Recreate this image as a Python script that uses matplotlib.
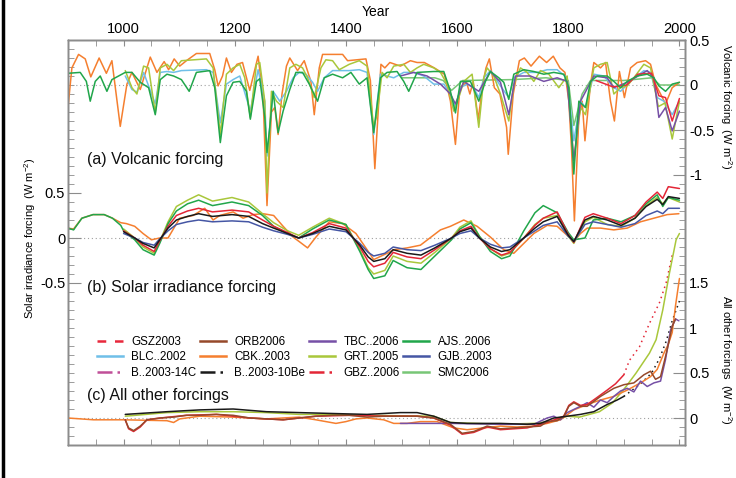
#!/usr/bin/env python3
# -*- coding: utf-8 -*-
"""
Radiative forcing reconstructions (last millennium) - three stacked panels:
(a) volcanic, (b) solar irradiance, (c) all other forcings.
"""

import matplotlib
matplotlib.use('Agg')
import matplotlib.pyplot as plt
from matplotlib.lines import Line2D
from matplotlib.ticker import FixedLocator, FixedFormatter, MultipleLocator
import numpy as np

# --- Configuration ---
plt.rcParams['font.family'] = ['Liberation Sans', 'DejaVu Sans']
plt.rcParams['mathtext.fontset'] = 'custom'
plt.rcParams['mathtext.rm'] = 'Liberation Sans'
plt.rcParams['mathtext.it'] = 'Liberation Sans:italic'

SPINE = '#8c8c8c'
ZERO = '#a0a0a0'
LW = 1.1

COLORS = {
    'GSZ': '#e8283c', 'ORB': '#96492a', 'TBC': '#7650a6', 'AJS': '#21a64b',
    'BLC': '#6fbfe8', 'CBK': '#f57f2f', 'GRT': '#a9c73b', 'GJB': '#4556a4',
    'B14C': '#c04f98', 'B10Be': '#1a1a1a', 'GBZ': '#e32636', 'SMC': '#78c676',
}

# --- Data: (a) volcanic forcing (W m-2) ---
VOLC_CBK_YEARS = [900, 907, 919, 931, 941, 956, 969, 979, 994, 1006,
                  1015, 1030, 1048, 1060, 1073, 1081, 1091, 1101, 1113, 1131,
                  1155, 1164, 1170, 1178, 1185, 1194, 1204, 1214, 1227, 1242,
                  1251, 1258, 1266, 1272, 1278, 1285, 1293, 1299, 1313, 1325,
                  1337, 1343, 1352, 1358, 1394, 1403, 1436, 1444, 1452, 1463,
                  1470, 1479, 1498, 1516, 1528, 1541, 1559, 1577, 1588, 1597,
                  1605, 1617, 1623, 1629, 1638, 1647, 1652, 1658, 1667, 1677,
                  1689, 1692, 1701, 1712, 1721, 1733, 1748, 1761, 1773, 1785,
                  1794, 1801, 1806, 1811, 1819, 1825, 1830, 1840, 1846, 1858,
                  1867, 1876, 1883, 1892, 1901, 1912, 1924, 1939, 1948, 1957,
                  1966, 1975, 1987, 2000]
VOLC_CBK = [-0.25, 0.19, 0.34, 0.29, 0.09, 0.30, 0.13, 0.27, -0.46, 0.01,
            0.14, -0.05, 0.31, 0.14, 0.26, 0.17, 0.29, 0.21, 0.27, 0.35,
            0.35, 0.17, -0.01, 0.10, 0.30, 0.14, 0.23, 0.25, -0.06, 0.32,
            -0.14, -1.34, -0.30, -0.25, -0.55, -0.10, 0.21, 0.30, 0.16, 0.27,
            0.04, -0.33, 0.19, 0.34, 0.34, 0.27, 0.29, 0.05, -0.93, 0.23,
            0.19, 0.25, 0.21, 0.27, 0.25, 0.25, 0.19, 0.12, -0.18, -0.66,
            -0.03, 0.03, -0.10, 0.04, -0.38, 0.04, 0.19, 0.29, -0.03, -0.10,
            -0.47, -0.77, -0.10, 0.27, 0.30, 0.21, 0.32, 0.25, 0.32, 0.19,
            0.14, -0.18, -0.73, -1.51, -0.36, -0.18, -0.62, 0.01, 0.25, 0.19,
            0.25, -0.18, -0.40, 0.15, -0.14, 0.19, 0.25, 0.27, 0.23, 0.01,
            -0.10, -0.21, -0.03, 0.03]

VOLC_AJS_YEARS = [900, 922, 933, 940, 949, 958, 970, 979, 991, 1003,
                  1015, 1030, 1045, 1057, 1066, 1078, 1090, 1104, 1118, 1131,
                  1155, 1164, 1174, 1185, 1197, 1209, 1221, 1228, 1239, 1245,
                  1254, 1258, 1263, 1269, 1278, 1287, 1299, 1310, 1322, 1334,
                  1349, 1361, 1376, 1394, 1409, 1424, 1438, 1450, 1462, 1474,
                  1492, 1504, 1513, 1528, 1558, 1576, 1588, 1597, 1606, 1624,
                  1639, 1651, 1660, 1675, 1684, 1693, 1702, 1720, 1738, 1756,
                  1774, 1792, 1801, 1810, 1819, 1831, 1840, 1852, 1870, 1882,
                  1894, 1906, 1924, 1942, 1954, 1963, 1975, 1987, 2000]
VOLC_AJS = [0.13, 0.14, 0.04, -0.18, 0.04, 0.10, -0.07, 0.06, 0.10, 0.14,
            0.14, 0.03, -0.03, -0.33, 0.06, 0.12, 0.10, 0.06, -0.07, 0.14,
            0.16, -0.03, -0.64, -0.12, 0.03, 0.04, -0.07, -0.38, 0.04, 0.07,
            -0.36, -0.75, -0.47, -0.07, -0.53, -0.29, -0.05, 0.14, 0.14, 0.01,
            -0.18, 0.08, 0.12, 0.08, 0.14, 0.01, 0.08, -0.53, 0.08, 0.14,
            0.15, 0.04, -0.07, 0.14, 0.15, 0.15, -0.07, -0.31, 0.04, 0.04,
            -0.18, 0.04, 0.15, 0.08, 0.03, -0.16, 0.12, 0.17, 0.15, 0.12,
            0.14, 0.12, -0.03, -0.99, -0.18, -0.25, 0.04, 0.10, 0.10, 0.04,
            -0.03, 0.04, 0.10, 0.12, 0.08, -0.01, -0.07, 0.01, 0.03]

VOLC_GRT_YEARS = [1003, 1015, 1024, 1036, 1045, 1057, 1066, 1078, 1090, 1104,
                  1149, 1161, 1174, 1185, 1197, 1209, 1218, 1228, 1239, 1245,
                  1254, 1258, 1266, 1275, 1287, 1299, 1310, 1322, 1331, 1343,
                  1355, 1364, 1376, 1388, 1406, 1424, 1438, 1450, 1456, 1465,
                  1474, 1486, 1504, 1516, 1528, 1540, 1558, 1570, 1582, 1594,
                  1603, 1612, 1627, 1639, 1648, 1654, 1666, 1678, 1693, 1702,
                  1714, 1726, 1738, 1750, 1765, 1783, 1798, 1810, 1822, 1831,
                  1846, 1858, 1870, 1882, 1894, 1906, 1918, 1936, 1948, 1962,
                  1974, 1987, 2000]
VOLC_GRT = [0.16, -0.03, -0.10, 0.21, 0.19, -0.31, 0.19, 0.23, 0.16, 0.27,
            0.29, 0.19, -0.55, 0.12, 0.19, 0.23, 0.08, -0.36, 0.23, 0.25,
            -0.18, -1.20, -0.07, -0.18, -0.25, 0.19, 0.23, 0.19, 0.08, -0.14,
            0.19, 0.28, 0.27, 0.17, 0.23, 0.27, 0.21, -0.47, -0.33, 0.14,
            0.08, 0.21, 0.23, 0.14, 0.19, 0.23, 0.19, 0.14, 0.01, -0.29,
            -0.14, 0.04, 0.12, -0.47, 0.08, 0.19, 0.10, -0.10, -0.40, 0.01,
            0.19, 0.14, 0.04, 0.16, 0.12, -0.03, 0.10, -0.84, -0.25, -0.33,
            0.19, 0.23, 0.25, -0.10, -0.03, -0.01, 0.08, 0.23, 0.19, -0.24,
            -0.20, -0.60, -0.18]

VOLC_BLC_YEARS = [1003, 1015, 1024, 1036, 1057, 1066, 1078, 1090, 1104, 1149,
                  1161, 1174, 1185, 1197, 1209, 1228, 1242, 1254, 1258, 1269,
                  1281, 1293, 1305, 1316, 1328, 1340, 1349, 1361, 1376, 1388,
                  1406, 1424, 1438, 1450, 1462, 1474, 1486, 1504, 1522, 1540,
                  1558, 1576, 1588, 1597, 1606, 1618, 1630, 1639, 1648, 1660,
                  1678, 1693, 1702, 1720, 1744, 1762, 1780, 1798, 1810, 1822,
                  1831, 1846, 1864, 1882, 1894, 1912, 1936, 1948, 1960, 1972,
                  1987, 2000]
VOLC_BLC = [0.10, -0.05, -0.08, 0.14, -0.21, 0.14, 0.15, 0.14, 0.16, 0.17,
            0.14, -0.42, 0.01, 0.06, 0.10, -0.29, 0.17, -0.18, -0.79, -0.07,
            -0.18, -0.07, 0.08, 0.14, 0.12, 0.03, -0.07, 0.08, 0.16, 0.16,
            0.16, 0.17, 0.14, -0.55, 0.12, 0.10, 0.08, 0.14, 0.14, 0.10,
            0.01, 0.01, -0.10, -0.25, -0.03, 0.01, -0.03, -0.14, 0.08, 0.16,
            -0.01, -0.14, 0.08, 0.14, 0.14, 0.17, 0.17, 0.08, -0.62, -0.18,
            -0.25, 0.12, 0.10, -0.03, -0.07, 0.04, 0.16, 0.14, -0.14, -0.18,
            -0.33, -0.18]

VOLC_TBC_YEARS = [1498, 1522, 1546, 1570, 1588, 1597, 1612, 1639, 1660, 1678,
                  1693, 1705, 1732, 1756, 1780, 1798, 1810, 1822, 1846, 1870,
                  1882, 1906, 1942, 1954, 1963, 1975, 1987, 2000]
VOLC_TBC = [0.10, 0.14, 0.10, 0.01, -0.10, -0.21, 0.04, -0.07, 0.15, 0.03,
            -0.33, 0.10, 0.10, 0.04, 0.08, 0.04, -0.84, -0.18, 0.10, 0.08,
            -0.03, 0.03, 0.16, 0.08, -0.36, -0.25, -0.51, -0.29]

VOLC_GSZ_YEARS = [1850, 1880, 1905, 1925, 1950, 1963, 1975, 1987, 2000]
VOLC_GSZ = [0.05, -0.02, 0.00, 0.12, 0.13, -0.12, -0.14, -0.40, -0.15]

VOLC_SMC_YEARS = [1500, 1560, 1575, 1590, 1610, 1700, 1760, 1800, 1810, 1825,
                  1840, 1900, 1950, 1965, 2000]
VOLC_SMC = [0.08, 0.08, 0.05, -0.06, 0.05, 0.06, 0.08, 0.05, -0.45, -0.10,
            0.05, 0.05, 0.08, 0.00, 0.00]

# --- Data: (b) solar irradiance forcing (W m-2) ---
SOLAR_YEARS = [1000, 1020, 1035, 1055, 1065, 1080, 1095, 1115, 1135, 1160,
               1195, 1225, 1250, 1270, 1295, 1315, 1340, 1370, 1400, 1425,
               1440, 1450, 1470, 1485, 1510, 1535, 1560, 1590, 1605, 1625,
               1640, 1660, 1680, 1695, 1720, 1740, 1755, 1780, 1800, 1810,
               1830, 1845, 1870, 1895, 1920, 1940, 1960, 1970, 1980, 2000]
SOLAR_B10BE = [0.07, 0.00, -0.06, -0.11, -0.02, 0.11, 0.20, 0.24, 0.27, 0.24,
               0.26, 0.24, 0.16, 0.11, 0.05, 0.00, 0.05, 0.13, 0.09, -0.08,
               -0.21, -0.26, -0.23, -0.13, -0.17, -0.19, -0.11, 0.00, 0.07, 0.11,
               0.00, -0.10, -0.15, -0.13, 0.00, 0.11, 0.18, 0.24, 0.03, -0.04,
               0.20, 0.24, 0.20, 0.14, 0.22, 0.35, 0.43, 0.37, 0.46, 0.44]
SOLAR_GBZ = [0.08, 0.00, -0.08, -0.15, -0.03, 0.13, 0.25, 0.30, 0.33, 0.29,
             0.31, 0.29, 0.20, 0.13, 0.06, 0.00, 0.06, 0.16, 0.11, -0.10,
             -0.26, -0.32, -0.28, -0.16, -0.21, -0.23, -0.13, 0.00, 0.08, 0.13,
             0.00, -0.12, -0.19, -0.16, 0.00, 0.14, 0.22, 0.29, 0.04, -0.05,
             0.23, 0.27, 0.22, 0.16, 0.25, 0.40, 0.51, 0.44, 0.57, 0.55]
SOLAR_GRT = [0.10, 0.00, -0.10, -0.17, -0.04, 0.18, 0.35, 0.42, 0.48, 0.41,
             0.45, 0.40, 0.27, 0.17, 0.08, 0.03, 0.12, 0.22, 0.15, -0.13,
             -0.33, -0.40, -0.36, -0.20, -0.26, -0.28, -0.16, 0.00, 0.12, 0.19,
             0.02, -0.12, -0.20, -0.17, 0.00, 0.15, 0.22, 0.25, 0.02, -0.06,
             0.18, 0.23, 0.15, 0.13, 0.22, 0.36, 0.45, 0.38, 0.45, 0.40]
SOLAR_GJB = [0.05, 0.00, -0.05, -0.08, -0.01, 0.08, 0.15, 0.18, 0.20, 0.18,
             0.19, 0.18, 0.12, 0.08, 0.04, 0.00, 0.04, 0.10, 0.07, -0.06,
             -0.16, -0.20, -0.17, -0.10, -0.13, -0.14, -0.08, 0.00, 0.05, 0.08,
             0.00, -0.07, -0.11, -0.10, 0.00, 0.08, 0.14, 0.18, 0.02, -0.04,
             0.15, 0.18, 0.15, 0.12, 0.16, 0.25, 0.30, 0.27, 0.33, 0.33]
SOLAR_AJS_YEARS = [900, 910, 925, 945, 965, 980, 995,
                   1000, 1020, 1035, 1055, 1065, 1080, 1095, 1115, 1135, 1160,
                   1195, 1225, 1250, 1270, 1295, 1315, 1340, 1370, 1400, 1425,
                   1440, 1450, 1470, 1485, 1510, 1535, 1560, 1590, 1605, 1625,
                   1640, 1660, 1680, 1695, 1720, 1740, 1755, 1780, 1800, 1810,
                   1830, 1845, 1870, 1895, 1920, 1940, 1960, 1970, 1980, 2000]
SOLAR_AJS = [0.11, 0.09, 0.22, 0.26, 0.26, 0.22, 0.14,
             0.08, -0.02, -0.13, -0.19, -0.06, 0.16, 0.30, 0.38, 0.42, 0.36,
             0.40, 0.36, 0.25, 0.13, 0.05, 0.00, 0.10, 0.20, 0.15, -0.15,
             -0.35, -0.45, -0.42, -0.25, -0.33, -0.35, -0.20, -0.02, 0.10, 0.17,
             0.02, -0.15, -0.23, -0.20, 0.08, 0.28, 0.36, 0.28, 0.06, -0.02,
             0.00, 0.20, 0.22, 0.18, 0.25, 0.38, 0.48, 0.35, 0.45, 0.42]
SOLAR_CBK_YEARS = [900, 910, 925, 945, 965, 980, 995, 1005, 1020, 1035,
                   1050, 1065, 1080, 1101, 1125, 1146, 1161, 1173, 1197, 1215,
                   1233, 1251, 1270, 1287, 1305, 1316, 1331, 1346, 1370, 1394,
                   1418, 1438, 1450, 1474, 1486, 1510, 1534, 1570, 1588, 1612,
                   1636, 1660, 1684, 1702, 1720, 1738, 1762, 1780, 1798, 1810,
                   1822, 1834, 1858, 1882, 1906, 1930, 1954, 1978, 1999]
SOLAR_CBK = [0.11, 0.10, 0.22, 0.26, 0.26, 0.22, 0.17, 0.16, 0.13, 0.05,
             -0.02, 0.00, 0.00, 0.22, 0.25, 0.33, 0.20, 0.25, 0.29, 0.22,
             0.26, 0.27, 0.25, 0.13, 0.01, -0.04, -0.11, 0.01, 0.18, 0.16,
             0.05, -0.13, -0.24, -0.17, -0.13, -0.11, -0.08, 0.09, 0.13, 0.20,
             0.13, 0.01, -0.13, -0.17, -0.06, 0.05, 0.14, 0.13, 0.03, -0.04,
             0.05, 0.11, 0.11, 0.09, 0.11, 0.18, 0.22, 0.26, 0.27]

# --- Data: (c) all other forcings (W m-2) ---
OTHER_B10BE_YEARS = [1003, 1078, 1137, 1197, 1257, 1316, 1376, 1438, 1498, 1528,
                     1558, 1588, 1618, 1678, 1726, 1750, 1774, 1798, 1822, 1846,
                     1870, 1888, 1900]
OTHER_B10BE = [0.04, 0.07, 0.09, 0.10, 0.07, 0.06, 0.05, 0.04, 0.06, 0.06,
               0.02, -0.05, -0.06, -0.06, -0.07, -0.06, 0.00, 0.02, 0.04, 0.07,
               0.15, 0.20, 0.24]
OTHER_B10BE_EXT_YEARS = [1900, 1930, 1950, 1964, 1976, 1987, 2000]
OTHER_B10BE_EXT = [0.24, 0.38, 0.50, 0.66, 0.85, 1.08, 1.30]

OTHER_GRT_YEARS = [1003, 1078, 1137, 1197, 1257, 1316, 1376, 1438, 1558, 1588,
                   1678, 1738, 1768, 1798, 1820, 1856, 1880, 1904, 1922, 1934,
                   1946, 1958, 1970, 1982, 1994, 2000]
OTHER_GRT = [0.02, 0.06, 0.07, 0.07, 0.06, 0.04, 0.04, 0.03, 0.02, -0.05,
             -0.07, -0.06, -0.04, 0.02, 0.01, 0.07, 0.17, 0.35, 0.50, 0.61,
             0.72, 0.87, 1.20, 1.61, 1.98, 2.05]

OTHER_GBZ_YEARS = [1003, 1009, 1018, 1030, 1042, 1066, 1113, 1167, 1227, 1287,
                   1346, 1406, 1468, 1528, 1558, 1588, 1609, 1630, 1654, 1678,
                   1726, 1762, 1792, 1801, 1810, 1822, 1834, 1850, 1870, 1885,
                   1900]
OTHER_GBZ = [-0.02, -0.12, -0.15, -0.10, -0.02, 0.00, 0.03, 0.04, 0.00, -0.02,
             0.02, 0.03, 0.02, 0.02, 0.00, -0.08, -0.18, -0.16, -0.10, -0.13,
             -0.11, -0.05, 0.02, 0.14, 0.18, 0.14, 0.15, 0.22, 0.31, 0.38,
             0.48]
OTHER_GBZ_EXT_YEARS = [1900, 1910, 1928, 1946, 1964, 1976, 1987]
OTHER_GBZ_EXT = [0.48, 0.64, 0.79, 1.05, 1.28, 1.50, 1.81]

OTHER_ORB_YEARS = [1003, 1009, 1018, 1030, 1042, 1066, 1090, 1113, 1137, 1167,
                   1197, 1227, 1257, 1287, 1316, 1346, 1376, 1406, 1438, 1468,
                   1498, 1528, 1558, 1588, 1609, 1630, 1654, 1678, 1702, 1726,
                   1750, 1762, 1780, 1792, 1801, 1810, 1822, 1834, 1858, 1882,
                   1900, 1918, 1936, 1948, 1957, 1966, 1978, 1987, 1993]
OTHER_ORB = [-0.02, -0.11, -0.14, -0.09, -0.02, 0.00, 0.01, 0.03, 0.03, 0.04,
             0.03, 0.00, -0.01, -0.02, 0.00, 0.02, 0.03, 0.03, 0.01, 0.02,
             0.02, 0.02, 0.00, -0.07, -0.17, -0.15, -0.09, -0.12, -0.11, -0.10,
             -0.09, -0.04, -0.03, 0.02, 0.13, 0.17, 0.13, 0.13, 0.24, 0.33,
             0.37, 0.39, 0.48, 0.52, 0.43, 0.46, 0.76, 1.02, 1.10]

OTHER_CBK_YEARS = [900, 946, 1000, 1078, 1090, 1101, 1137, 1197, 1257, 1316,
                   1346, 1364, 1382, 1400, 1418, 1438, 1468, 1486, 1510, 1534,
                   1564, 1594, 1618, 1648, 1678, 1708, 1738, 1762, 1786, 1810,
                   1834, 1858, 1882, 1906, 1930, 1948, 1960, 1972, 1980, 1987,
                   1993, 2000]
OTHER_CBK = [0.00, -0.02, -0.02, -0.03, -0.05, -0.01, 0.02, 0.01, -0.01, 0.01,
             -0.02, -0.04, -0.06, -0.04, -0.01, 0.00, -0.02, -0.06, -0.06, -0.04,
             -0.04, -0.11, -0.13, -0.11, -0.09, -0.10, -0.09, -0.06, -0.02, 0.09,
             0.15, 0.20, 0.24, 0.31, 0.39, 0.46, 0.54, 0.72, 0.82, 0.95,
             1.25, 1.55]

OTHER_TBC_YEARS = [1498, 1588, 1678, 1738, 1762, 1774, 1786, 1798, 1822, 1834,
                   1846, 1858, 1870, 1882, 1894, 1906, 1918, 1930, 1942, 1954,
                   1966, 1975, 1984, 1993, 1999]
OTHER_TBC = [-0.06, -0.06, -0.07, -0.07, 0.00, 0.02, -0.02, 0.06, 0.13, 0.17,
             0.12, 0.20, 0.17, 0.24, 0.30, 0.33, 0.29, 0.41, 0.35, 0.39,
             0.41, 0.65, 0.98, 1.10, 1.08]

# --- Legend (row by row as printed) ---
LEGEND_LABELS = ['GSZ2003', 'ORB2006', 'TBC..2006', 'AJS..2006',
                 'BLC..2002', 'CBK..2003', 'GRT..2005', 'GJB..2003',
                 'B..2003-14C', 'B..2003-10Be', 'GBZ..2006', 'SMC2006']
LEGEND_KEYS = ['GSZ', 'ORB', 'TBC', 'AJS', 'BLC', 'CBK', 'GRT', 'GJB',
               'B14C', 'B10Be', 'GBZ', 'SMC']
DASH_DOT_DOT = (0, (6, 2, 1, 2, 1, 2))
LEGEND_STYLES = {'GSZ': (0, (3.5, 3.5)), 'B14C': DASH_DOT_DOT,
                 'B10Be': DASH_DOT_DOT, 'GBZ': DASH_DOT_DOT}


def setup_axes(fig):
    rect = [68 / 736, 33 / 478, 617 / 736, 405 / 478]
    ax_s = fig.add_axes(rect)      # solar, left scale
    ax_v = ax_s.twinx()            # volcanic, upper right scale
    ax_o = ax_s.twinx()            # other forcings, lower right scale

    ax_s.set_xlim(900, 2010)
    ax_s.set_ylim(-2.3, 2.2)
    ax_v.set_ylim(-4.0, 0.5)
    ax_o.set_ylim(-0.3, 4.2)

    for ax in (ax_s, ax_v, ax_o):
        for sp in ax.spines.values():
            sp.set_color(SPINE)
            sp.set_linewidth(1.0)

    # x axis: labels on top, ticks top and bottom
    ax_s.xaxis.set_major_locator(FixedLocator(range(1000, 2001, 200)))
    ax_s.xaxis.set_minor_locator(MultipleLocator(50))
    ax_s.tick_params(axis='x', which='both', direction='in', top=True,
                     bottom=True, labeltop=True, labelbottom=False,
                     color=SPINE, length=4, pad=3, labelsize=10.5)

    # left scale (solar)
    ax_s.yaxis.set_major_locator(FixedLocator([-0.5, 0, 0.5]))
    ax_s.yaxis.set_major_formatter(FixedFormatter(['-0.5', '0', '0.5']))
    ax_s.yaxis.set_minor_locator(FixedLocator(np.round(np.arange(-2.3, 2.21, 0.1), 2)))
    ax_s.tick_params(axis='y', which='both', direction='in', left=True,
                     right=False, color=SPINE, labelsize=10.5, pad=2)
    ax_s.tick_params(axis='y', which='major', length=9)
    ax_s.tick_params(axis='y', which='minor', length=4.5)

    # right scale (volcanic)
    ax_v.yaxis.set_major_locator(FixedLocator([-1, -0.5, 0, 0.5]))
    ax_v.yaxis.set_major_formatter(FixedFormatter(['-1', '-0.5', '0', '0.5']))
    ax_v.yaxis.set_minor_locator(FixedLocator(np.round(np.arange(-4.0, 0.51, 0.1), 2)))
    ax_v.tick_params(axis='y', which='both', direction='in', color=SPINE,
                     labelsize=10.5, pad=3)
    ax_v.tick_params(axis='y', which='major', length=9)
    ax_v.tick_params(axis='y', which='minor', length=4.5)

    # right scale (all other forcings)
    ax_o.yaxis.set_major_locator(FixedLocator([0, 0.5, 1, 1.5]))
    ax_o.yaxis.set_major_formatter(FixedFormatter(['0', '0.5', '1', '1.5']))
    ax_o.yaxis.set_minor_locator(FixedLocator([]))
    ax_o.tick_params(axis='y', which='major', direction='in', color=SPINE,
                     labelsize=10.5, pad=3, length=9)

    for ax in (ax_s, ax_v, ax_o):
        ax.axhline(0, color=ZERO, ls=(0, (1, 2.5)), lw=0.8, zorder=0)

    return ax_s, ax_v, ax_o


def draw(ax, years, values, key, ls='-'):
    ax.plot(years, values, color=COLORS[key], lw=LW, ls=ls, solid_capstyle='round')


def plot_forcings():
    fig = plt.figure(figsize=(7.36, 4.78), dpi=100)
    ax_s, ax_v, ax_o = setup_axes(fig)

    # (a) volcanic
    draw(ax_v, VOLC_SMC_YEARS, VOLC_SMC, 'SMC')
    draw(ax_v, VOLC_CBK_YEARS, VOLC_CBK, 'CBK')
    draw(ax_v, VOLC_BLC_YEARS, VOLC_BLC, 'BLC')
    draw(ax_v, VOLC_GRT_YEARS, VOLC_GRT, 'GRT')
    draw(ax_v, VOLC_TBC_YEARS, VOLC_TBC, 'TBC')
    draw(ax_v, VOLC_GSZ_YEARS, VOLC_GSZ, 'GSZ')
    draw(ax_v, VOLC_AJS_YEARS, VOLC_AJS, 'AJS')

    # (b) solar
    draw(ax_s, SOLAR_CBK_YEARS, SOLAR_CBK, 'CBK')
    draw(ax_s, SOLAR_YEARS, SOLAR_GRT, 'GRT')
    draw(ax_s, SOLAR_AJS_YEARS, SOLAR_AJS, 'AJS')
    draw(ax_s, SOLAR_YEARS, SOLAR_GBZ, 'GBZ')
    draw(ax_s, SOLAR_YEARS, SOLAR_GJB, 'GJB')
    draw(ax_s, SOLAR_YEARS, SOLAR_B10BE, 'B10Be')

    # (c) all other forcings
    dotted = (0, (1, 2.5))
    draw(ax_o, OTHER_GBZ_EXT_YEARS, OTHER_GBZ_EXT, 'GBZ', ls=dotted)
    draw(ax_o, OTHER_B10BE_EXT_YEARS, OTHER_B10BE_EXT, 'B10Be', ls=dotted)
    draw(ax_o, OTHER_GRT_YEARS, OTHER_GRT, 'GRT')
    draw(ax_o, OTHER_CBK_YEARS, OTHER_CBK, 'CBK')
    draw(ax_o, OTHER_TBC_YEARS, OTHER_TBC, 'TBC')
    draw(ax_o, OTHER_GBZ_YEARS, OTHER_GBZ, 'GBZ')
    draw(ax_o, OTHER_ORB_YEARS, OTHER_ORB, 'ORB')
    draw(ax_o, OTHER_B10BE_YEARS, OTHER_B10BE, 'B10Be')

    # panel titles
    for y, txt in [(0.704, '(a) Volcanic forcing'),
                   (0.390, '(b) Solar irradiance forcing'),
                   (0.122, '(c) All other forcings')]:
        ax_o.text(0.031, y, txt, transform=ax_o.transAxes, fontsize=11.5,
                  ha='left', va='center', color='#111111')

    # legend, filled column-wise by matplotlib -> reorder
    handles = [Line2D([], [], color=COLORS[k], lw=1.8,
                      ls=LEGEND_STYLES.get(k, '-')) for k in LEGEND_KEYS]
    order = [0, 4, 8, 1, 5, 9, 2, 6, 10, 3, 7, 11]
    ax_o.legend([handles[i] for i in order], [LEGEND_LABELS[i] for i in order],
                ncol=4, loc='upper left', bbox_to_anchor=(0.047, 0.270),
                frameon=False, fontsize=8.4, handlelength=2.2,
                handletextpad=0.75, columnspacing=0.3, labelspacing=0.3,
                borderpad=0, borderaxespad=0)

    # axis titles
    fig.text(376 / 736, 1 - 12 / 478, 'Year', ha='center', va='center', fontsize=10)
    fig.text(30 / 736, 1 - 238 / 478, 'Solar irradiance forcing  (W m$^{-2}$)',
             rotation=90, ha='center', va='center', fontsize=8)
    fig.text(726 / 736, 1 - 107 / 478, 'Volcanic forcing  (W m$^{-2}$)',
             rotation=270, ha='center', va='center', fontsize=8)
    fig.text(726 / 736, 1 - 360 / 478, 'All other forcings  (W m$^{-2}$)',
             rotation=270, ha='center', va='center', fontsize=8)

    # black frame edge on the left of the figure
    fig.add_artist(Line2D([0.0035, 0.0035], [0, 1], transform=fig.transFigure,
                          color='black', lw=2.5))

    fig.savefig('out.png', dpi=100)
    plt.close(fig)


if __name__ == '__main__':
    plot_forcings()
